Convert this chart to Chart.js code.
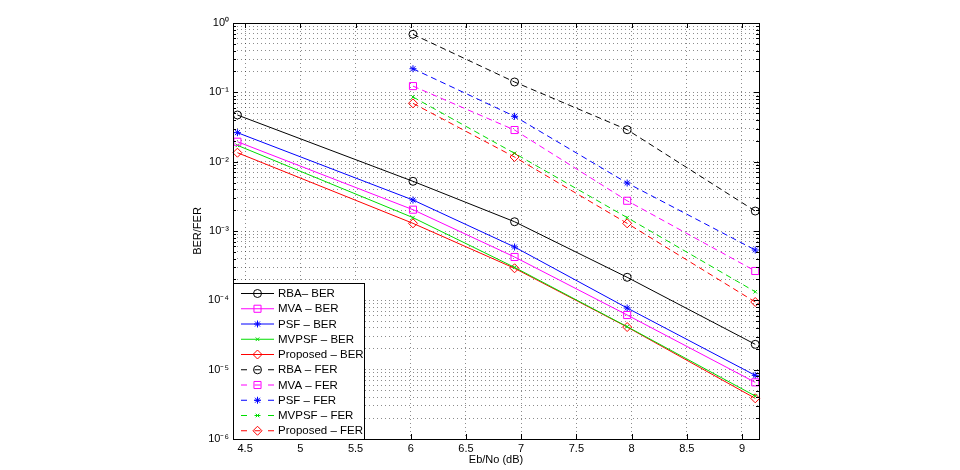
<!DOCTYPE html>
<html>
<head>
<meta charset="utf-8">
<script src="https://cdn.jsdelivr.net/npm/chart.js@4"></script>
<style>
  html, body { margin: 0; padding: 0; background: #fff; }
  #wrap { width: 960px; height: 470px; }
</style>
</head>
<body>
<div id="wrap"><canvas id="chart" width="960" height="470"></canvas></div>
<script>
// Eb/No points (dB)
const xBer = [4.43, 6.02, 6.94, 7.96, 9.12]
const xFer = [6.02, 6.94, 7.96, 9.12]

// BER curves
const rbaBer = [0.0471, 0.00521, 0.00136, 0.000215, 0.0000232]
const mvaBer = [0.0194, 0.00203, 0.000422, 0.0000614, 0.00000656]
const psfBer = [0.0262, 0.0028, 0.000588, 0.0000775, 0.00000828]
const mvpsfBer = [0.0172, 0.00156, 0.000299, 0.0000417, 0.00000417]
const propBer = [0.01346, 0.00129, 0.00029, 0.0000412, 0.00000386]

// FER curves
const rbaFer = [0.687, 0.141, 0.0289, 0.00194]
const mvaFer = [0.123, 0.0286, 0.00273, 0.000265]
const psfFer = [0.219, 0.0451, 0.00492, 0.000532]
const mvpsfFer = [0.0857, 0.0132, 0.00156, 0.000133]
const propFer = [0.0694, 0.01167, 0.00129, 0.0000946]

const xTicks = [4.5, 5, 5.5, 6, 6.5, 7, 7.5, 8, 8.5, 9]
const decades = [-6, -5, -4, -3, -2, -1, 0]
const supers = { "-": "\u207B", "0": "\u2070", "1": "\u00B9", "2": "\u00B2", "3": "\u00B3", "4": "\u2074", "5": "\u2075", "6": "\u2076" }

const FONT = "'Liberation Sans', Arial, sans-serif"
const dash = [6, 4]

function pts(xs, ys) {
    return xs.map((x, i) => ({ x: x, y: ys[i] }))
}

function series(label, xs, ys, color, style, radius, dashed) {
    return {
        label: label,
        data: pts(xs, ys),
        borderColor: color,
        backgroundColor: "rgba(0,0,0,0)",
        borderWidth: 1,
        borderDash: dashed ? dash : [],
        pointStyle: style,
        pointRadius: radius,
        pointBorderColor: color,
        pointBackgroundColor: "rgba(0,0,0,0)",
        pointBorderWidth: 1,
        tension: 0,
        clip: false
    }
}

const BLACK = "#000000", MAG = "#ff00ff", BLUE = "#0000ff", GREEN = "#00dd00", RED = "#ff0000"

const datasets = [
    series("RBA\u2013 BER", xBer, rbaBer, BLACK, "circle", 4, false),
    series("MVA \u2013 BER", xBer, mvaBer, MAG, "rect", 5, false),
    series("PSF \u2013 BER", xBer, psfBer, BLUE, "star", 3.5, false),
    series("MVPSF \u2013 BER", xBer, mvpsfBer, GREEN, "crossRot", 2.5, false),
    series("Proposed \u2013 BER", xBer, propBer, RED, "rectRot", 4.5, false),
    series("RBA \u2013 FER", xFer, rbaFer, BLACK, "circle", 4, true),
    series("MVA \u2013 FER", xFer, mvaFer, MAG, "rect", 5, true),
    series("PSF \u2013 FER", xFer, psfFer, BLUE, "star", 3.5, true),
    series("MVPSF \u2013 FER", xFer, mvpsfFer, GREEN, "crossRot", 2.5, true),
    series("Proposed \u2013 FER", xFer, propFer, RED, "rectRot", 4.5, true)
]

// box, inner ticks and the legend box drawn MATLAB style
const boxPlugin = {
    id: "box",
    afterDatasetsDraw(chart) {
        const ctx = chart.ctx
        const a = chart.chartArea
        const xs = chart.scales.x, ys = chart.scales.y
        ctx.save()
        ctx.strokeStyle = "#000"
        ctx.lineWidth = 1
        ctx.setLineDash([])
        ctx.beginPath()
        xTicks.forEach(v => {
            const px = Math.round(xs.getPixelForValue(v)) + 0.5
            ctx.moveTo(px, a.bottom); ctx.lineTo(px, a.bottom - 5)
            ctx.moveTo(px, a.top); ctx.lineTo(px, a.top + 5)
        })
        decades.forEach(d => {
            for (let m = 1; m <= 9; m++) {
                if (d === 0 && m > 1) break
                const py = Math.round(ys.getPixelForValue(m * Math.pow(10, d))) + 0.5
                const len = m === 1 ? 5 : 3
                ctx.moveTo(a.left, py); ctx.lineTo(a.left + len, py)
                ctx.moveTo(a.right, py); ctx.lineTo(a.right - len, py)
            }
        })
        ctx.stroke()
        ctx.strokeRect(Math.round(a.left) + 0.5, Math.round(a.top) + 0.5, Math.round(a.right - a.left), Math.round(a.bottom - a.top))

        // legend
        const lx = Math.round(a.left) + 0.5
        const ly = 283.5
        const lw = 131
        const lh = Math.round(a.bottom) + 0.5 - ly
        ctx.fillStyle = "#fff"
        ctx.fillRect(lx, ly, lw, lh)
        ctx.strokeRect(lx, ly, lw, lh)
        ctx.font = "11.5px " + FONT
        ctx.textBaseline = "middle"
        ctx.textAlign = "left"
        datasets.forEach((ds, i) => {
            const cy = 293.5 + i * 15.25
            const x0 = 241, x1 = 274, cx = 257.5
            ctx.strokeStyle = ds.borderColor
            ctx.lineWidth = 1
            ctx.beginPath()
            if (ds.borderDash.length) {
                ctx.moveTo(x0, cy); ctx.lineTo(x0 + 6, cy)
                ctx.moveTo(cx - 3, cy); ctx.lineTo(cx + 3, cy)
                ctx.moveTo(x1 - 6, cy); ctx.lineTo(x1, cy)
            } else {
                ctx.moveTo(x0, cy); ctx.lineTo(x1, cy)
            }
            ctx.stroke()
            ctx.fillStyle = "rgba(0,0,0,0)"
            Chart.helpers.drawPoint(ctx, {
                pointStyle: ds.pointStyle,
                radius: ds.pointRadius,
                borderWidth: 1
            }, cx, cy)
            ctx.fillStyle = "#000"
            ctx.fillText(ds.label, 278, cy + 0.5)
        })
        ctx.restore()
    }
}

new Chart(document.getElementById("chart"), {
    type: "line",
    data: { datasets: datasets },
    plugins: [boxPlugin],
    options: {
        responsive: false,
        animation: false,
        layout: { padding: { left: 191, right: 201, top: 23, bottom: 0 } },
        plugins: {
            legend: { display: false },
            tooltip: { enabled: false }
        },
        scales: {
            x: {
                type: "linear",
                min: 4.39,
                max: 9.154,
                afterBuildTicks: (s) => { s.ticks = xTicks.map(v => ({ value: v })) },
                afterFit: (s) => { s.height = 31 },
                ticks: {
                    color: "#000",
                    font: { family: FONT, size: 11 },
                    padding: 3,
                    maxRotation: 0,
                    autoSkip: false,
                    callback: (v) => String(v)
                },
                grid: {
                    color: "rgba(0,0,0,0.45)",
                    drawTicks: false
                },
                border: { display: false, dash: [1, 3] },
                title: {
                    display: true,
                    text: "Eb/No (dB)",
                    color: "#000",
                    font: { family: FONT, size: 11 },
                    padding: { top: 0, bottom: 3 }
                }
            },
            y: {
                type: "logarithmic",
                min: 1e-6,
                max: 1,
                afterBuildTicks: (s) => {
                    const t = []
                    decades.forEach(d => {
                        for (let m = 1; m <= 9; m++) {
                            if (d === 0 && m > 1) break
                            t.push({ value: m * Math.pow(10, d) })
                        }
                    })
                    s.ticks = t
                },
                afterFit: (s) => { s.width = 42 },
                ticks: {
                    color: "#000",
                    font: { family: FONT, size: 11 },
                    padding: 4,
                    autoSkip: false,
                    callback: (v) => {
                        const e = Math.round(Math.log10(v))
                        if (Math.abs(v - Math.pow(10, e)) > 1e-12 * Math.pow(10, e)) return ""
                        return "10" + String(e).split("").map(c => supers[c]).join("")
                    }
                },
                grid: {
                    color: "rgba(0,0,0,0.45)",
                    drawTicks: false
                },
                border: { display: false, dash: [1, 3] },
                title: {
                    display: true,
                    text: "BER/FER",
                    color: "#000",
                    font: { family: FONT, size: 11 },
                    padding: { top: 0, bottom: 0 }
                }
            }
        }
    }
})
</script>
</body>
</html>
